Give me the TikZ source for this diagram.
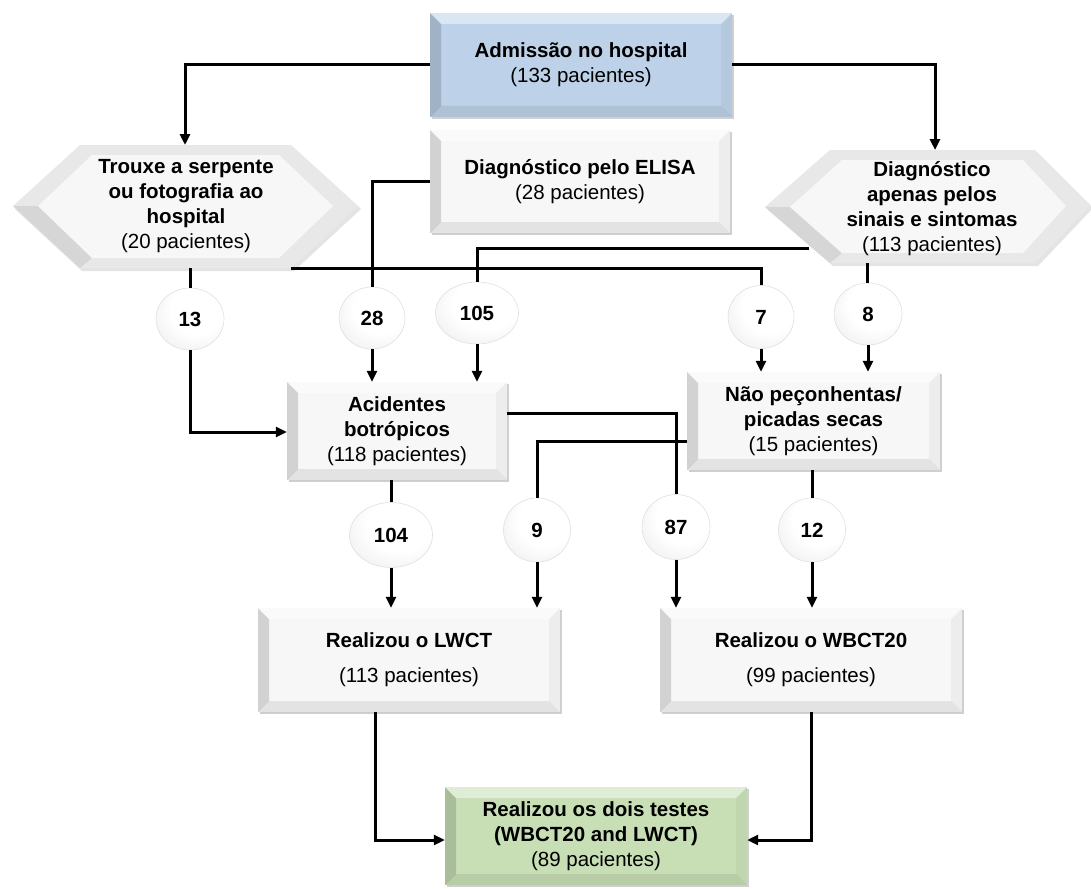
\documentclass[tikz,border=0pt]{standalone}
\usepackage{fontspec}
\setmainfont{Liberation Sans}
\usetikzlibrary{shapes.geometric,arrows.meta,shadows}
\definecolor{bluebox}{HTML}{BDD2E8}
\definecolor{greenbox}{HTML}{C8DFB6}
\definecolor{greybox}{HTML}{F7F7F7}
\pgfdeclareradialshading{bubble}{\pgfpoint{8bp}{10bp}}{%
  color(0bp)=(white); color(20bp)=(white); color(34bp)=(black!5);
  color(47bp)=(black!17); color(62bp)=(black!30); color(80bp)=(black!35)}
\tikzset{
  bev/.style={rectangle, fill=#1, draw=none, align=center, inner sep=2pt,
    font=\fontsize{20.5}{25}\selectfont,
    drop shadow={shadow xshift=1.5pt, shadow yshift=-2pt, opacity=0.3, fill=black!60},
    path picture={
      \path (path picture bounding box.north west) coordinate (bnw)
            (path picture bounding box.south east) coordinate (bse);
      \fill[black, opacity=0.15] (bnw) -- (bnw|-bse) -- ([shift={(11pt,11pt)}]bnw|-bse) -- ([shift={(11pt,-11pt)}]bnw) -- cycle;
      \fill[black, opacity=0.08] (bnw|-bse) -- (bse) -- ([shift={(-11pt,11pt)}]bse) -- ([shift={(11pt,11pt)}]bnw|-bse) -- cycle;
      \fill[black, opacity=0.04] (bse) -- (bse|-bnw) -- ([shift={(-11pt,-11pt)}]bse|-bnw) -- ([shift={(-11pt,11pt)}]bse) -- cycle;
      \fill[white, opacity=0.45] (bse|-bnw) -- (bnw) -- ([shift={(11pt,-11pt)}]bnw) -- ([shift={(-11pt,-11pt)}]bse|-bnw) -- cycle;
    }},
  num/.style={ellipse, shading=bubble, draw=black!12, line width=0.6pt, inner sep=0pt,
    font=\bfseries\fontsize{20.5}{24}\selectfont},
  line/.style={line width=3pt, draw=black},
  arr/.style={line, -{Triangle[length=11pt,width=10pt]}},
  hex/.style={fill=black!9, draw=none},
  hexin/.style={fill=greybox, draw=none},
  txt/.style={align=center, font=\fontsize{20.5}{25}\selectfont, inner sep=0pt}
}
\begin{document}
\begin{tikzpicture}[x=1pt,y=-1pt]
\useasboundingbox (0,0) rectangle (1091,888);
\fill[white] (0,0) rectangle (1091,888);

% boxes
\node[bev=bluebox, minimum width=302pt, minimum height=104pt] (adm) at (581,65)
  {\textbf{Admissão no hospital}\\(133 pacientes)};
\node[bev=greybox, minimum width=300pt, minimum height=103pt] (elisa) at (580,181.5)
  {\textbf{Diagnóstico pelo ELISA}\\(28 pacientes)};

% hexagons
\fill[black!30, opacity=0.35] (15,209) -- (82,148) -- (294,148) -- (361,209) -- (294,271) -- (82,271) -- cycle;
\fill[hex] (13,206) -- (80,145) -- (291,145) -- (358,206) -- (291,268) -- (80,268) -- cycle;
\fill[black!16] (13,206) -- (80,268) -- (92,258) -- (38,206) -- cycle;
\fill[hexin] (38,206) -- (92,155) -- (279,155) -- (333,206) -- (279,258) -- (92,258) -- cycle;
\node[txt] (hexL) at (186,206) {\textbf{Trouxe a serpente}\\\textbf{ou fotografia ao}\\\textbf{hospital}\\(20 pacientes)};

\fill[black!30, opacity=0.35] (768,210) -- (833,153) -- (1038,153) -- (1093,208) -- (1038,266) -- (833,266) -- cycle;
\fill[hex] (765,207) -- (830,150) -- (1035,150) -- (1090,206) -- (1035,263) -- (830,263) -- cycle;
\fill[black!16] (765,207) -- (830,263) -- (842,253) -- (790,207) -- cycle;
\fill[hexin] (790,207) -- (842,160) -- (1023,160) -- (1066,206) -- (1023,253) -- (842,253) -- cycle;
\node[txt] (hexR) at (932,209) {\textbf{Diagnóstico}\\\textbf{apenas pelos}\\\textbf{sinais e sintomas}\\(113 pacientes)};

\coordinate (hLt) at (185,145);
\coordinate (hLb) at (190,268);
\coordinate (hLbr) at (291,268);
\coordinate (hRt) at (935,150);
\coordinate (hRl) at (809,248);
\coordinate (hRb) at (867,263);

\node[bev=greybox, minimum width=220pt, minimum height=98pt] (acid) at (397,431)
  {\textbf{Acidentes}\\\textbf{botrópicos}\\(118 pacientes)};
\node[bev=greybox, minimum width=253pt, minimum height=98pt] (naop) at (813.5,421)
  {\textbf{Não peçonhentas/}\\\textbf{picadas secas}\\(15 pacientes)};

\node[bev=greybox, minimum width=302pt, minimum height=104pt] (lwct) at (409,660)
  {\textbf{Realizou o LWCT}\\[10pt](113 pacientes)};
\node[bev=greybox, minimum width=302pt, minimum height=104pt] (wbct) at (811,660)
  {\textbf{Realizou o WBCT20}\\[10pt](99 pacientes)};
\node[bev=greenbox, minimum width=302pt, minimum height=98pt] (final) at (596,836)
  {\textbf{Realizou os dois testes}\\\textbf{(WBCT20 and LWCT)}\\(89 pacientes)};

% number bubbles
\node[num, minimum width=68pt, minimum height=62pt] (c13) at (190,319) {13};
\node[num, minimum width=66pt, minimum height=62pt] (c28) at (372,318) {28};
\node[num, minimum width=83pt, minimum height=62pt] (c105) at (477,313) {105};
\node[num, minimum width=66pt, minimum height=63pt] (c7) at (761,317) {7};
\node[num, minimum width=68pt, minimum height=62pt] (c8) at (868,314) {8};
\node[num, minimum width=83pt, minimum height=65pt] (c104) at (391,535) {104};
\node[num, minimum width=67pt, minimum height=64pt] (c9) at (537,530) {9};
\node[num, minimum width=68pt, minimum height=65pt] (c87) at (676,527) {87};
\node[num, minimum width=67pt, minimum height=64pt] (c12) at (812,530) {12};

% connectors
\draw[arr] (adm.west) -| (hLt);
\draw[arr] (adm.east) -| (hRt);
\draw[line] (elisa.west) -| (c28.north);
\draw[arr] (c28.south) -- (c28.south |- acid.north);
\draw[line] (hLbr) -| (c7.north);
\draw[arr] (c7.south) -- (c7.south |- naop.north);
\draw[line] (hRl) -| (c105.north);
\draw[arr] (c105.south) -- (c105.south |- acid.north);
\draw[line] (hRb) -- (hRb |- c8.north);
\draw[arr] (c8.south) -- (c8.south |- naop.north);
\draw[line] (hLb) -- (c13.north);
\draw[arr] (c13.south) |- ([yshift=-1pt]acid.west);
\draw[line] ([yshift=18pt]acid.east) -| (c87.north);
\draw[arr] (c87.south) -- (c87.south |- wbct.north);
\draw[line] ([yshift=-20pt]naop.west) -| (c9.north);
\draw[arr] (c9.south) -- (c9.south |- lwct.north);
\draw[line] (acid.south -| c104.north) -- (c104.north);
\draw[arr] (c104.south) -- (c104.south |- lwct.north);
\draw[line] (naop.south -| c12.north) -- (c12.north);
\draw[arr] (c12.south) -- (c12.south |- wbct.north);
\draw[arr] ([xshift=-34pt]lwct.south) |- ([yshift=-4pt]final.west);
\draw[arr] (wbct.south) |- ([yshift=-4pt]final.east);
\end{tikzpicture}
\end{document}
